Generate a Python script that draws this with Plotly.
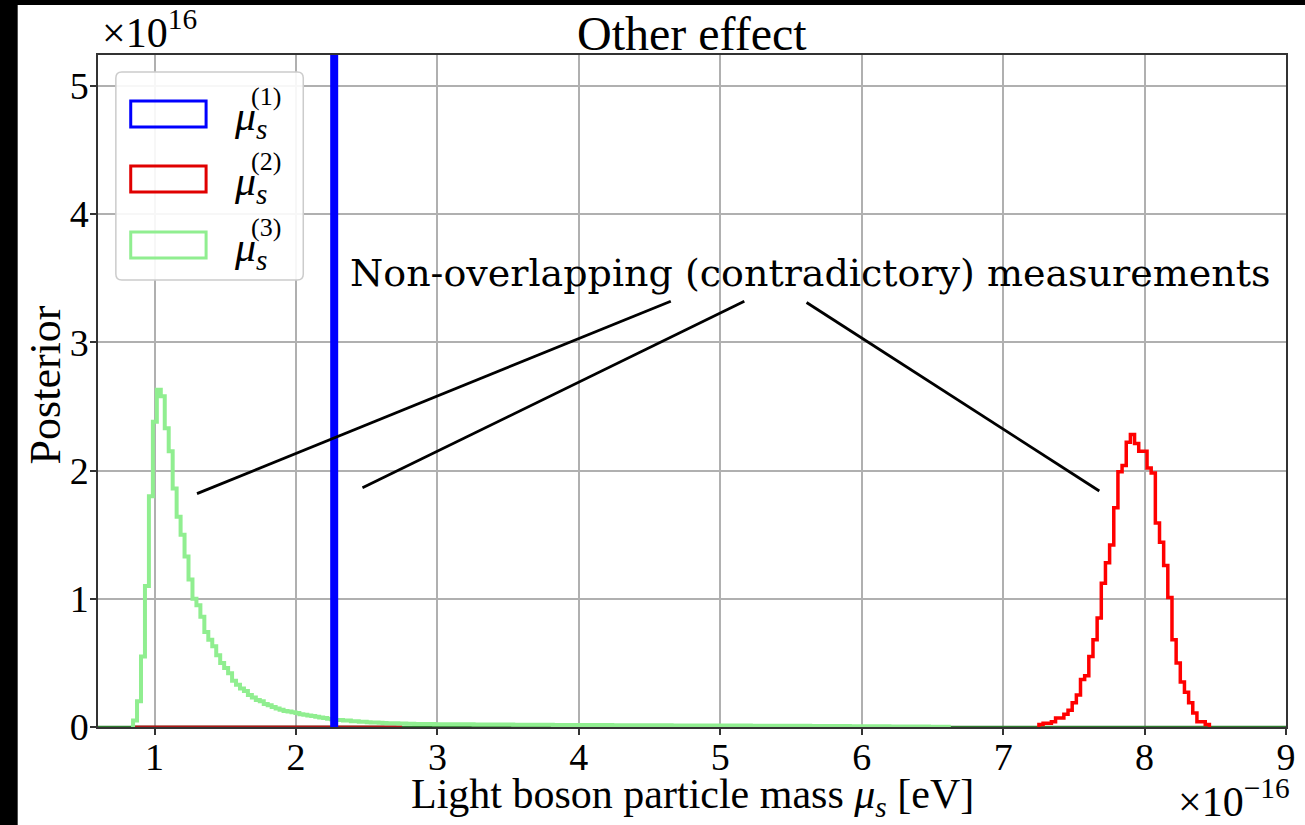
import plotly.graph_objects as go

# ---------------- data ----------------
x_tick_vals = [1, 2, 3, 4, 5, 6, 7, 8, 9]
y_tick_vals = [0, 1, 2, 3, 4, 5]

# mu_s^(3) posterior (light green), fine bins near the peak
green_start = 0.848
green_width = 0.028
green_counts = [0.05, 0.20, 0.55, 1.10, 1.80, 2.38, 2.63, 2.58, 2.33, 2.15,
                1.86, 1.64, 1.50, 1.33, 1.15, 1.00, 0.95, 0.86, 0.74, 0.68,
                0.63, 0.56, 0.50, 0.46, 0.42, 0.36, 0.33, 0.30, 0.28, 0.25,
                0.23, 0.21, 0.20, 0.18, 0.17, 0.155, 0.145, 0.135, 0.125, 0.12,
                0.115, 0.11, 0.10, 0.095, 0.09, 0.085, 0.08, 0.075, 0.07, 0.065,
                0.06, 0.055, 0.055, 0.05, 0.05, 0.045, 0.045, 0.04, 0.04, 0.038,
                0.036, 0.035, 0.033, 0.032, 0.03, 0.03, 0.03, 0.028, 0.027, 0.026,
                0.025]
# long low tail of mu_s^(3), coarser bins
green_tail_width = 0.14
green_tail_counts = [0.024, 0.022, 0.021, 0.020, 0.019, 0.018, 0.017, 0.016,
                     0.015, 0.015, 0.014, 0.013, 0.013, 0.012, 0.012, 0.011,
                     0.011, 0.010, 0.010, 0.009, 0.008, 0.007, 0.006, 0.005,
                     0.004, 0.003, 0.002]

# mu_s^(2) posterior (red)
red_start = 7.253
red_width = 0.0294
red_counts = [0.02, 0.03, 0.03, 0.04, 0.07, 0.07, 0.10, 0.13, 0.19, 0.25,
              0.37, 0.40, 0.55, 0.68, 0.85, 1.12, 1.28, 1.42, 1.71, 1.99,
              2.04, 2.22, 2.28, 2.21, 2.15, 2.15, 2.02, 1.98, 1.59, 1.44,
              1.26, 1.01, 0.68, 0.50, 0.35, 0.27, 0.19, 0.11, 0.04, 0.04,
              0.02]

# mu_s^(1): single, very narrow, off-scale spike
blue_center = 2.27
blue_height = 100.0

# zero-level outlines along the bottom
red_zero_range = [0.85, 2.75]
green_zero_range = [0.6, 9.0]

x_range = [0.6, 9.0]
y_range = [0.0, 5.24]

# annotation
note_text = "Non-overlapping (contradictory) measurements"
note_pos = (5.64, 3.54)
arrow_starts = [(4.65, 3.32), (5.17, 3.32), (5.61, 3.31)]
arrow_ends = [(1.30, 1.82), (2.47, 1.865), (7.68, 1.84)]

legend_labels = ["(1)", "(2)", "(3)"]
legend_colors = ["#0000ff", "#e00000", "#90ee90"]

# ---------------- helpers ----------------
def step_outline(edges, counts):
    xs = [edges[0]] + list(edges[:-1]) + [edges[-1]]
    ys = [0.0] + list(counts) + [0.0]
    return xs, ys

green_edges = [green_start + i * green_width for i in range(len(green_counts) + 1)]
tail_start = green_edges[-1]
green_edges += [tail_start + (i + 1) * green_tail_width for i in range(len(green_tail_counts))]
green_all = green_counts + green_tail_counts
gx, gy = step_outline(green_edges, green_all)

red_edges = [red_start + i * red_width for i in range(len(red_counts) + 1)]
rx, ry = step_outline(red_edges, red_counts)

SERIF = "Liberation Serif"

fig = go.Figure()
fig.add_trace(go.Scatter(x=green_zero_range, y=[0, 0], mode="lines",
                         line=dict(color="#2f7d2f", width=2.5), showlegend=False, hoverinfo="skip"))
fig.add_trace(go.Scatter(x=red_zero_range, y=[0, 0], mode="lines",
                         line=dict(color="#b01818", width=3), showlegend=False, hoverinfo="skip"))
fig.add_trace(go.Scatter(x=rx, y=ry, mode="lines", line_shape="hv",
                         line=dict(color="#ff0000", width=3.5), name="mu2", showlegend=False))
fig.add_trace(go.Scatter(x=gx, y=gy, mode="lines", line_shape="hv",
                         line=dict(color="#90ee90", width=4), name="mu3", showlegend=False))
fig.add_trace(go.Scatter(x=[blue_center, blue_center], y=[0, blue_height], mode="lines",
                         line=dict(color="#0000ff", width=8), name="mu1", showlegend=False))

shapes = []
for (x0, y0), (x1, y1) in zip(arrow_starts, arrow_ends):
    shapes.append(dict(type="line", xref="x", yref="y", x0=x0, y0=y0, x1=x1, y1=y1,
                       line=dict(color="black", width=2.8), layer="above"))

# black borders of the screenshot
shapes.append(dict(type="rect", xref="paper", yref="paper", x0=-0.09, x1=-0.0676,
                   y0=-0.2, y1=1.2, fillcolor="black", line_width=0, layer="above"))
shapes.append(dict(type="rect", xref="paper", yref="paper", x0=-0.09, x1=1.05,
                   y0=1.0744, y1=1.2, fillcolor="black", line_width=0, layer="above"))

# custom legend box (paper coords)
def px2paper(px, py):
    return (px - 98) / 1198.0, (727 - py) / 672.0

bx0, by0 = px2paper(116, 280)
bx1, by1 = px2paper(305, 72)
dx, dy = 6 / 1198.0, 6 / 672.0
path = (f"M {bx0+dx},{by0} L {bx1-dx},{by0} Q {bx1},{by0} {bx1},{by0+dy} "
        f"L {bx1},{by1-dy} Q {bx1},{by1} {bx1-dx},{by1} L {bx0+dx},{by1} "
        f"Q {bx0},{by1} {bx0},{by1-dy} L {bx0},{by0+dy} Q {bx0},{by0} {bx0+dx},{by0} Z")
shapes.append(dict(type="path", xref="paper", yref="paper", path=path,
                   fillcolor="rgba(255,255,255,0.9)", line=dict(color="#cccccc", width=1.5),
                   layer="above"))

annotations = []
row_centers = [114, 179, 245]
for lab, col, cy in zip(legend_labels, legend_colors, row_centers):
    ax0, ay0 = px2paper(131, cy + 13)
    ax1, ay1 = px2paper(207, cy - 13)
    shapes.append(dict(type="rect", xref="paper", yref="paper", x0=ax0, x1=ax1, y0=ay0, y1=ay1,
                       fillcolor="rgba(0,0,0,0)", line=dict(color=col, width=3), layer="above"))
    tx, ty = px2paper(233, cy + 5)
    annotations.append(dict(xref="paper", yref="paper", x=tx, y=ty, xanchor="left", yanchor="middle",
                            text="<i>μ</i><sub><i>s</i></sub>", showarrow=False,
                            font=dict(family=SERIF, size=42, color="black")))
    sx, sy = px2paper(250, cy - 18)
    annotations.append(dict(xref="paper", yref="paper", x=sx, y=sy, xanchor="left", yanchor="middle",
                            text=lab, showarrow=False,
                            font=dict(family=SERIF, size=26, color="black")))

annotations.append(dict(xref="x", yref="y", x=note_pos[0], y=note_pos[1], text=note_text,
                        showarrow=False, xanchor="center", yanchor="middle",
                        font=dict(family="DejaVu Serif", size=38, color="black")))

# titles / labels
annotations.append(dict(xref="paper", yref="paper", x=0.5, y=1.0327, text="Other effect",
                        showarrow=False, xanchor="center", yanchor="middle",
                        font=dict(family=SERIF, size=48, color="black")))
annotations.append(dict(xref="paper", yref="paper", x=0.5, y=-0.104,
                        text="Light boson particle mass <i>μ</i><sub><i>s</i></sub> [eV]",
                        showarrow=False, xanchor="center", yanchor="middle",
                        font=dict(family=SERIF, size=42, color="black")))
annotations.append(dict(xref="paper", yref="paper", x=-0.0442, y=0.509, text="Posterior",
                        showarrow=False, textangle=-90, xanchor="center", yanchor="middle",
                        font=dict(family=SERIF, size=44, color="black")))
annotations.append(dict(xref="paper", yref="paper", x=0.0015, y=1.0, yshift=-3,
                        text="×10<sup>16</sup>", showarrow=False, xanchor="left", yanchor="bottom",
                        font=dict(family=SERIF, size=42, color="black")))
annotations.append(dict(xref="paper", yref="paper", x=1.005, y=-0.106,
                        text="×10<sup>−16</sup>", showarrow=False, xanchor="right", yanchor="middle",
                        font=dict(family=SERIF, size=42, color="black")))

axis_common = dict(showline=True, mirror=True, linecolor="#333333", linewidth=1.5,
                   showgrid=True, gridcolor="#b0b0b0", gridwidth=1.5,
                   ticks="outside", ticklen=6, tickwidth=1.5, tickcolor="#333333",
                   zeroline=False, tickfont=dict(family=SERIF, size=38, color="black"))

fig.update_layout(
    width=1305, height=825,
    margin=dict(l=98, r=9, t=55, b=98),
    paper_bgcolor="white", plot_bgcolor="white",
    showlegend=False,
    xaxis=dict(range=x_range, tickvals=x_tick_vals, ticktext=[str(v) for v in x_tick_vals],
               ticklabelstandoff=-10, **axis_common),
    yaxis=dict(range=y_range, tickvals=y_tick_vals, ticktext=[str(v) for v in y_tick_vals],
               ticklabelstandoff=-6, **axis_common),
    shapes=shapes,
    annotations=annotations,
)

fig.write_html("out.html")
